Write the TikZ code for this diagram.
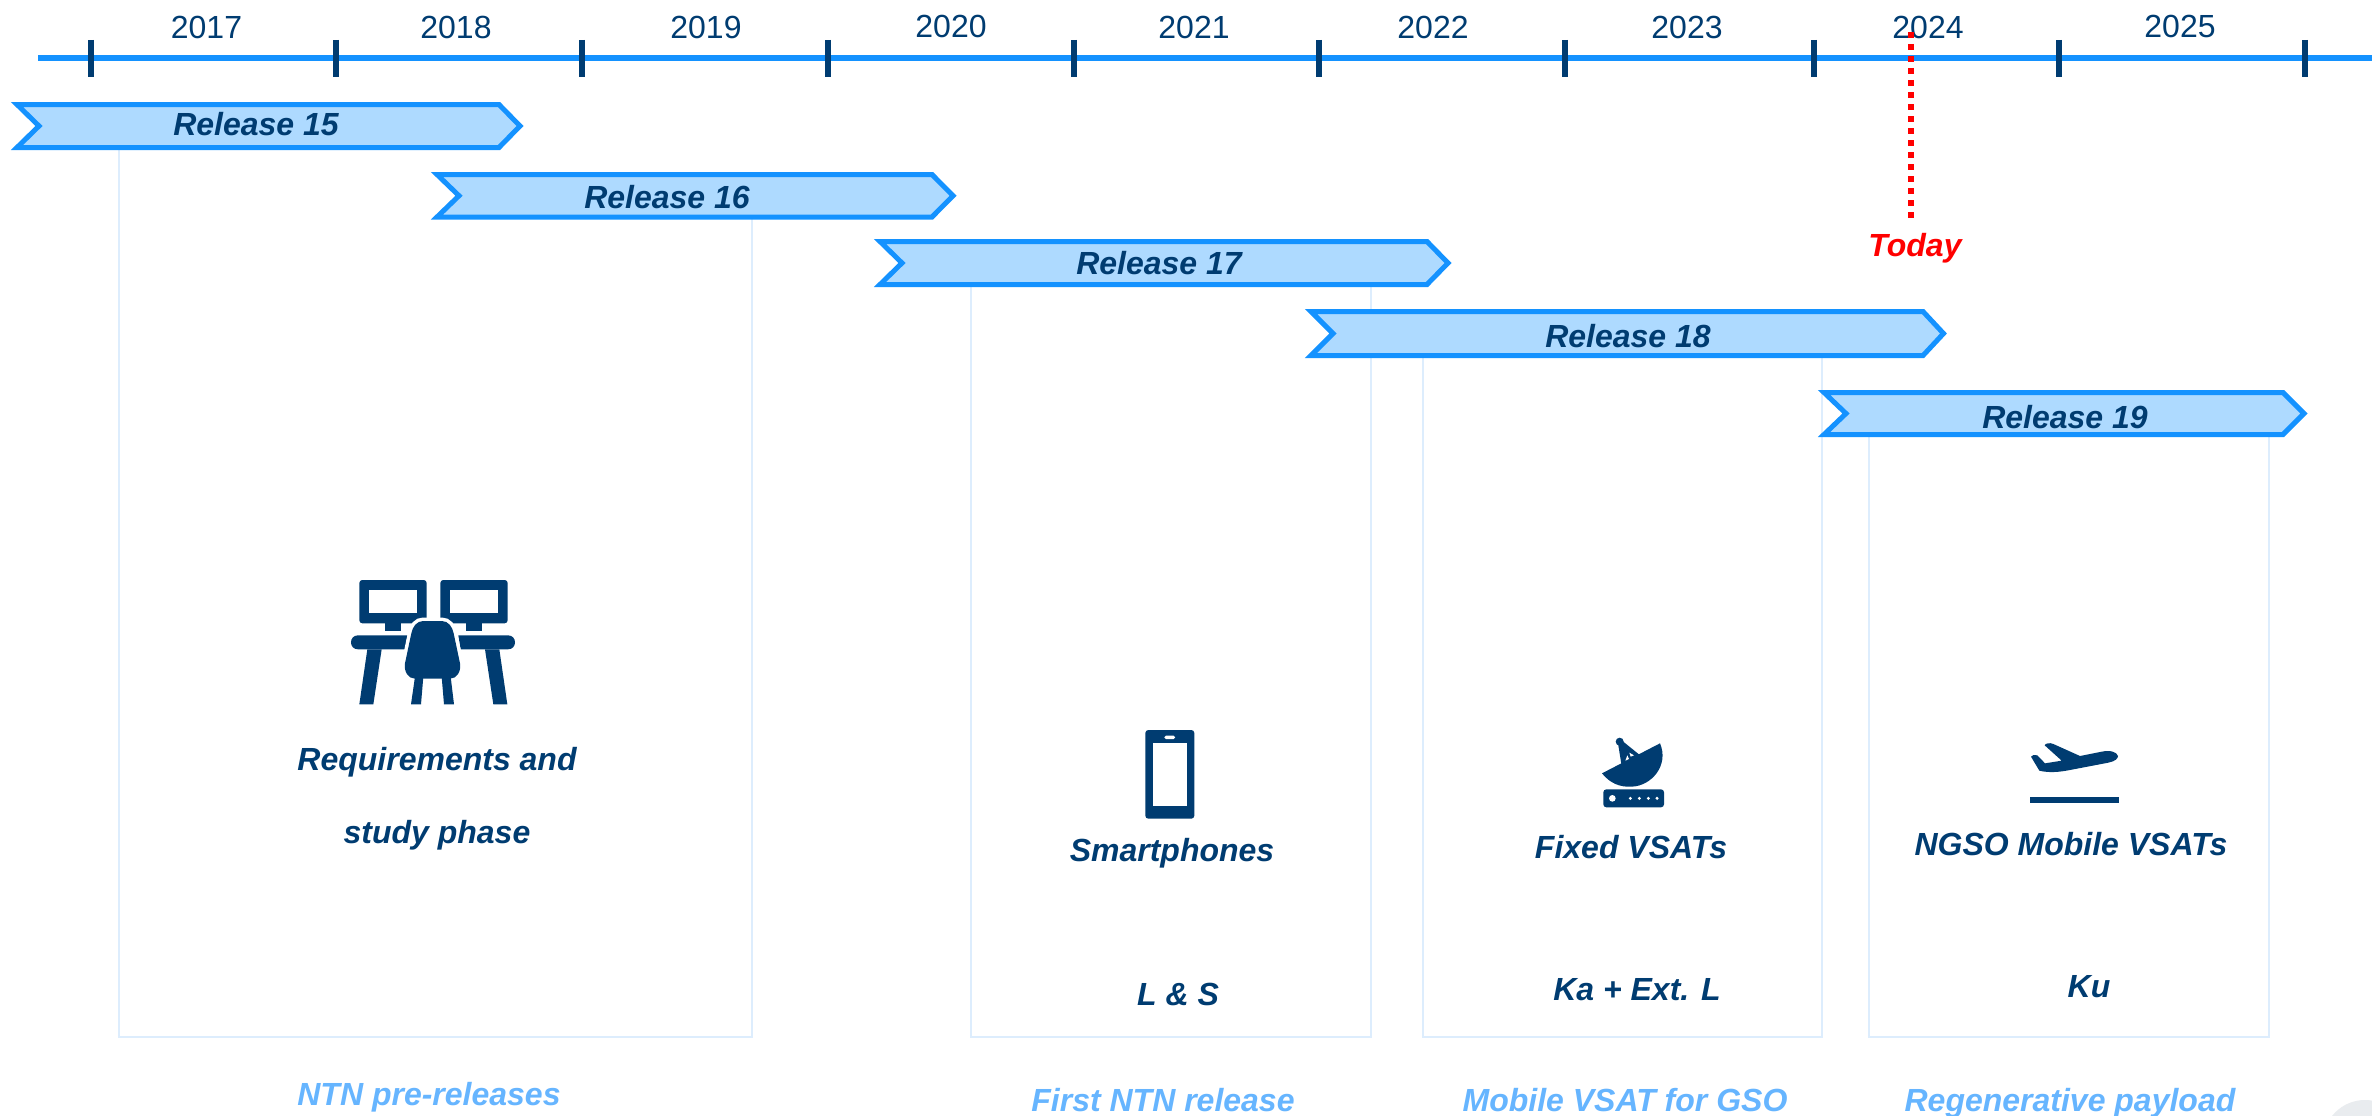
\documentclass[tikz,border=0pt]{standalone}
\usepackage{fontspec}
\setmainfont{Liberation Sans}
\definecolor{navy}{HTML}{003C71}
\definecolor{brightblue}{HTML}{1492FF}
\definecolor{chevfill}{HTML}{AEDAFF}
\definecolor{boxline}{HTML}{DDEDFD}
\definecolor{skylabel}{HTML}{66B5FF}
\definecolor{cornergrey}{HTML}{E9ECEF}
\tikzset{
  x=1pt,y=-1pt,
  txt/.style={inner sep=0pt,outer sep=0pt,anchor=center,text height=23pt,text depth=0pt,font=\fontsize{32}{38}\selectfont},
  yearlabel/.style={txt,text=navy},
  strong/.style={txt,text=navy,font=\fontsize{32}{38}\selectfont\bfseries\itshape},
  soft/.style={txt,text=skylabel,font=\fontsize{32}{38}\selectfont\bfseries\itshape},
  todaylabel/.style={txt,text=red,font=\fontsize{32}{38}\selectfont\bfseries\itshape},
  axisline/.style={draw=brightblue,line width=6pt},
  tickline/.style={draw=navy,line width=6pt},
  panel/.style={draw=boxline,line width=2.8pt},
  chev/.style={draw=brightblue,fill=chevfill,line width=5pt,miter limit=10},
  icon/.style={fill=navy,draw=none},
  iconscale/.style={scale=1/3},
}
\newcommand{\chevron}[5]{% left, shoulder, tip, top, bottom
  \draw[chev] (#1,#4) -- (#2,#4) -- (#3,{(#4+#5)/2}) -- (#2,#5) -- (#1,#5) -- ({#1+22},{(#4+#5)/2}) -- cycle;}
\begin{document}
\begin{tikzpicture}
\useasboundingbox[fill=white] (0,0) rectangle (2372,1116);
\fill[cornergrey] (2365,1142) circle (42);
% panels
\draw[panel] (119,150) -- (119,1037) -- (752,1037) -- (752,215);
\draw[panel] (971,285) -- (971,1037) -- (1371,1037) -- (1371,285);
\draw[panel] (1423,355) -- (1423,1037) -- (1822,1037) -- (1822,355);
\draw[panel] (1869,435) -- (1869,1037) -- (2269,1037) -- (2269,435);
% axis
\draw[axisline] (38,58.5) -- (2372,58.5);
\foreach \tx in {91,336,582,828,1074,1319,1565,1814,2059,2305}
  \draw[tickline] (\tx,40) -- (\tx,77);
% years
\node[yearlabel] (y17) at (206.5,27) {2017};
\node[yearlabel] (y18) at (456,27) {2018};
\node[yearlabel] (y19) at (706,27) {2019};
\node[yearlabel] (y20) at (951,26) {2020};
\node[yearlabel] (y21) at (1194,27) {2021};
\node[yearlabel] (y22) at (1433,27) {2022};
\node[yearlabel] (y23) at (1687,27) {2023};
\node[yearlabel] (y24) at (1928,27) {2024};
\node[yearlabel] (y25) at (2180,26) {2025};
% today
\draw[draw=red,line width=6pt,dash pattern=on 6pt off 6pt] (1911,32) -- (1911,218);
\node[todaylabel] (today) at (1915,245) {Today};
% chevrons
\chevron{17}{499}{520}{104.5}{147.5}
\chevron{437}{932}{953}{174.5}{217}
\chevron{880}{1427}{1448}{241.5}{284.5}
\chevron{1311}{1923}{1943.5}{311.5}{355.5}
\chevron{1824}{2283}{2304}{392.5}{434.5}
\node[strong] (r15) at (256,124) {Release 15};
\node[strong] (r16) at (667,197) {Release 16};
\node[strong] (r17) at (1159,263) {Release 17};
\node[strong] (r18) at (1628,336) {Release 18};
\node[strong] (r19) at (2065,417) {Release 19};
% desk icon
\begin{scope}[shift={(320,560)},iconscale]
  \fill[icon,rounded corners=3] (118,60) rectangle (320,190);
  \fill[white] (148,90) rectangle (290,160);
  \fill[icon,rounded corners=3] (361,60) rectangle (563,190);
  \fill[white] (391,90) rectangle (533,160);
  \fill[icon] (194,190) rectangle (243,214);
  \fill[icon] (437,190) rectangle (486,214);
  \fill[icon] (262,226) -- (114,226) .. controls (86,226) and (86,268) .. (114,268) -- (255,268) -- cycle;
  \fill[icon] (142,268) -- (118,433) -- (160,433) -- (185,268) -- cycle;
  \fill[icon] (415,226) -- (564,226) .. controls (592,226) and (592,268) .. (564,268) -- (422,268) -- cycle;
  \fill[icon] (495,268) -- (520,433) -- (562,433) -- (538,268) -- cycle;
  \path[draw=white,line width=7pt] (310,183) -- (365,183) .. controls (385,183) and (397,200) .. (401,220)
     -- (420,310) .. controls (424,335) and (410,356) .. (390,356) -- (285,356)
     .. controls (265,356) and (251,335) .. (255,310) -- (274,220) .. controls (278,200) and (290,183) .. (310,183) -- cycle;
  \fill[icon] (285,350) -- (273,433) -- (303,433) -- (310,350) -- cycle;
  \fill[icon] (365,350) -- (372,433) -- (402,433) -- (392,350) -- cycle;
  \path[icon] (310,183) -- (365,183) .. controls (385,183) and (397,200) .. (401,220)
     -- (420,310) .. controls (424,335) and (410,356) .. (390,356) -- (285,356)
     .. controls (265,356) and (251,335) .. (255,310) -- (274,220) .. controls (278,200) and (290,183) .. (310,183) -- cycle;
\end{scope}
% phone icon
\begin{scope}[shift={(1100,710)},iconscale]
  \fill[icon,rounded corners=3] (136,60) rectangle (283,326);
  \fill[white] (158,100) rectangle (261,288);
  \fill[white,rounded corners=1.5] (193,77) rectangle (225,87);
\end{scope}
% dish icon
\begin{scope}[shift={(1570,720)},iconscale]
  \fill[icon] (96,160) -- (270,70) .. controls (298,135) and (245,198) .. (185,200) .. controls (150,202) and (120,190) .. (96,160) -- cycle;
  \fill[icon] (149,65) circle (12);
  \fill[icon] (144,70) -- (154,132) -- (208,104) -- (156,62) -- cycle;
  \fill[white] (166,122) -- (172,106) -- (177,117) -- cycle;
  \fill[white] (178,98) -- (192,106) -- (182,110) -- cycle;
  \fill[icon,rounded corners=3] (100,208) rectangle (282,262);
  \fill[white] (127,235) circle (10);
  \foreach \dx in {181,208,235,261} \fill[white] (\dx,235) circle (5);
\end{scope}
% plane icon
\begin{scope}[shift={(2000,720)},iconscale]
  \fill[icon] (90,232) rectangle (358,248);
  \fill[icon] (354,108) .. controls (350,95) and (330,90) .. (305,95) -- (240,108) -- (160,72)
    .. controls (150,67) and (135,70) .. (134,76) -- (185,122) -- (135,130) -- (112,106)
    .. controls (105,103) and (95,105) .. (93,110) -- (118,152)
    .. controls (150,160) and (185,155) .. (210,150) -- (325,128) .. controls (345,124) and (354,116) .. (354,108) -- cycle;
\end{scope}
% labels
\node[strong] (a1) at (437,759) {Requirements and};
\node[strong] (a2) at (437,832) {study phase};
\node[strong] (b1) at (1172,850) {Smartphones};
\node[strong] (b2) at (1178,994) {L \& S};
\node[strong] (c1) at (1631,847) {Fixed VSATs};
\node[strong] (c2) at (1637,989) {Ka + Ext. L};
\node[strong] (d1) at (2071,844) {NGSO Mobile VSATs};
\node[strong] (d2) at (2089,986) {Ku};
\node[soft] (e1) at (429,1094) {NTN pre-releases};
\node[soft] (e2) at (1163,1100) {First NTN release};
\node[soft] (e3) at (1625,1100) {Mobile VSAT for GSO};
\node[soft] (e4) at (2070,1100) {Regenerative payload};
\end{tikzpicture}
\end{document}
